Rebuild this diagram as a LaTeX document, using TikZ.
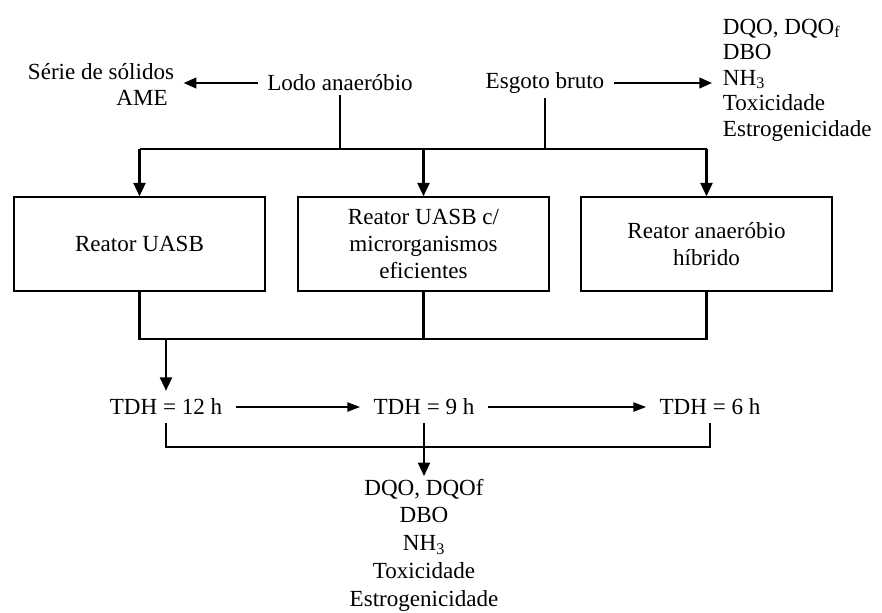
\documentclass[tikz,border=0pt]{standalone}
\usepackage{fontspec}
\setmainfont{Liberation Serif}
\usetikzlibrary{arrows.meta}
\begin{document}
\begin{tikzpicture}[x=0.75pt,y=-0.75pt,
  every node/.style={font=\fontsize{17.3}{20}\selectfont},
  txt/.style={inner xsep=7pt,inner ysep=3pt},
  box/.style={draw,line width=1.1pt,minimum width=188.25pt,minimum height=70.5pt,align=center,inner sep=0pt},
  lst/.style={align=center,inner sep=2pt},
  bus/.style={line width=1.6pt},
  busarrow/.style={line width=1.6pt,-{Triangle[length=10pt,width=9pt]}},
  sidearrow/.style={line width=1.4pt,-{Triangle[length=9.5pt,width=8pt]}},
  thinarrow/.style={line width=1pt,-{Triangle[length=9.5pt,width=7pt]}},
  tdh/.style={inner xsep=10pt,inner ysep=6pt}]
\useasboundingbox (0,0) rectangle (882,612);
\fill[white] (0,0) rectangle (882,612);
% top texts
\node[txt] (serie) at (101,72) {Série de sólidos};
\node[txt] (ame) at (142,98) {AME};
\node[txt] (lodo) at (340,83) {Lodo anaeróbio};
\node[txt] (esgoto) at (545,83) {Esgoto bruto};
\node[anchor=west,align=left,inner xsep=8pt,font=\fontsize{17.3}{19.1}\selectfont] (med1) at (712,80)
  {DQO, DQO\textsubscript{f}\\DBO\\NH\textsubscript{3}\\Toxicidade\\Estrogenicidade};
% boxes
\node[box] (b1) at (139.5,244) {Reator UASB};
\node[box] (b2) at (423.5,244) {Reator UASB c/\\microrganismos\\eficientes};
\node[box] (b3) at (706.5,244) {Reator anaeróbio\\híbrido};
% TDH row
\node[tdh] (t12) at (166,407) {TDH = 12 h};
\node[tdh] (t9) at (424,407) {TDH = 9 h};
\node[tdh] (t6) at (710,407) {TDH = 6 h};
\node[lst,font=\fontsize{17.3}{20.8}\selectfont] (med2) at (424,545)
  {DQO, DQOf\\DBO\\NH\textsubscript{3}\\Toxicidade\\Estrogenicidade};
% coordinates
\coordinate (bl) at (139.5,149);
\coordinate (br) at (706.5,149);
\coordinate (lowbus) at (423.5,339);
\coordinate (lb) at (424,447);
% connectors top
\draw[sidearrow] (lodo.west) -- (lodo.west -| serie.east);
\draw[sidearrow] (esgoto.east) -- (esgoto.east -| med1.west);
\draw[bus] (lodo.south) -- (lodo.south |- bl);
\draw[bus] (esgoto.south) -- (esgoto.south |- bl);
\draw[bus] (bl) -- (br);
\draw[busarrow] (bl) -- (b1.north);
\draw[busarrow] (b2.north |- bl) -- (b2.north);
\draw[busarrow] (br) -- (b3.north);
% connectors middle
\draw[bus] (b1.south) |- (lowbus) -| (b3.south);
\draw[bus] (b2.south) -- (lowbus);
\draw[busarrow] (t12.north |- lowbus) -- (t12.north);
% TDH arrows
\draw[thinarrow] (t12.east) -- (t9.west);
\draw[thinarrow] (t9.east) -- (t6.west);
% bottom
\draw[bus] (t12.south) |- (lb) -| (t6.south);
\draw[busarrow] (t9.south) -- (t9.south |- med2.north);
\end{tikzpicture}
\end{document}
